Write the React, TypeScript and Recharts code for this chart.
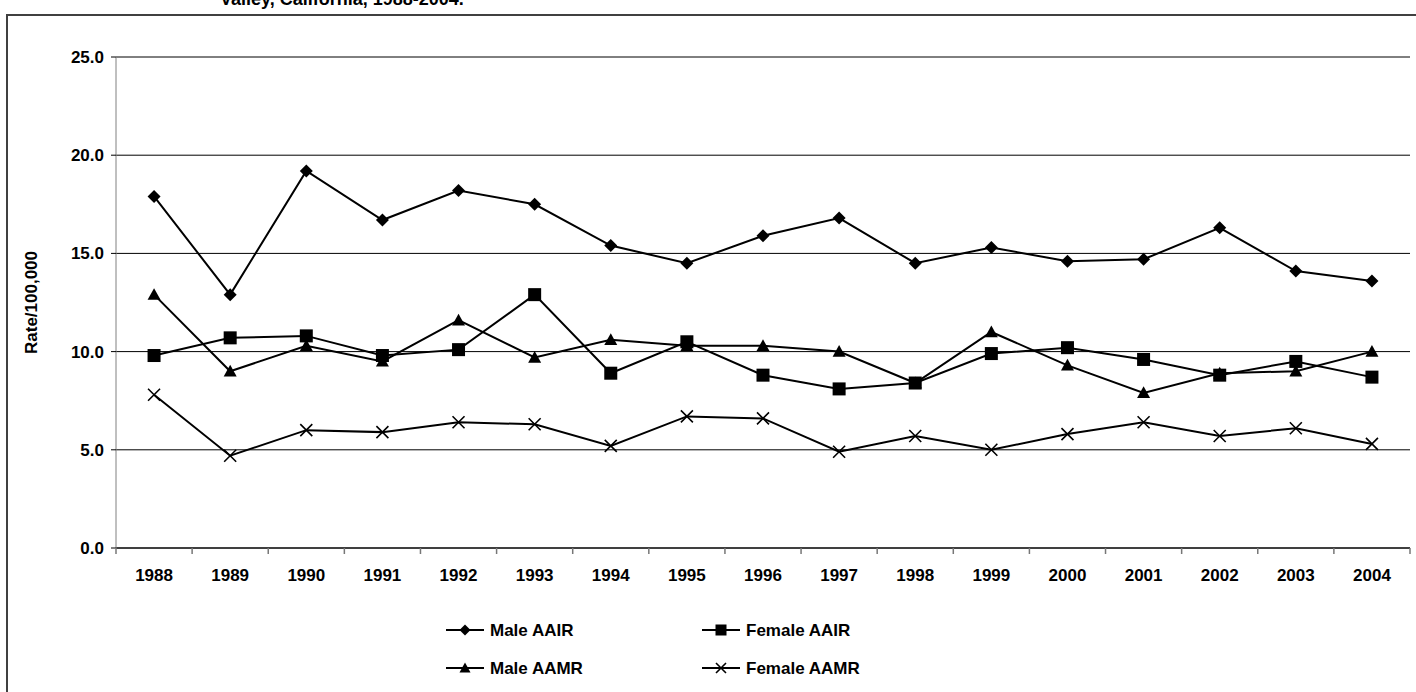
import React from "react";
import { LineChart, Line, XAxis, YAxis, CartesianGrid } from "recharts";

const YEARS = [
  "1988", "1989", "1990", "1991", "1992", "1993", "1994", "1995", "1996",
  "1997", "1998", "1999", "2000", "2001", "2002", "2003", "2004",
];
const MALE_AAIR = [17.9, 12.9, 19.2, 16.7, 18.2, 17.5, 15.4, 14.5, 15.9, 16.8, 14.5, 15.3, 14.6, 14.7, 16.3, 14.1, 13.6];
const FEMALE_AAIR = [9.8, 10.7, 10.8, 9.8, 10.1, 12.9, 8.9, 10.5, 8.8, 8.1, 8.4, 9.9, 10.2, 9.6, 8.8, 9.5, 8.7];
const MALE_AAMR = [12.9, 9.0, 10.3, 9.5, 11.6, 9.7, 10.6, 10.3, 10.3, 10.0, 8.4, 11.0, 9.3, 7.9, 8.9, 9.0, 10.0];
const FEMALE_AAMR = [7.8, 4.7, 6.0, 5.9, 6.4, 6.3, 5.2, 6.7, 6.6, 4.9, 5.7, 5.0, 5.8, 6.4, 5.7, 6.1, 5.3];
const Y_TICKS = [0, 5, 10, 15, 20, 25];

const data = YEARS.map((year, i) => ({
  year,
  maleAair: MALE_AAIR[i],
  femaleAair: FEMALE_AAIR[i],
  maleAamr: MALE_AAMR[i],
  femaleAamr: FEMALE_AAMR[i],
}));

const W = 1416;
const H = 692;
const MARGIN = { top: 57, right: 6, bottom: 114, left: 56 };
const PLOT_W = W - MARGIN.left - MARGIN.right - 60;
const FONT = "'Liberation Sans', Arial, sans-serif";

type Shape = "diamond" | "square" | "triangle" | "cross";

const SERIES: { key: string; name: string; shape: Shape; col: number; row: number }[] = [
  { key: "maleAair", name: "Male AAIR", shape: "diamond", col: 0, row: 0 },
  { key: "femaleAair", name: "Female AAIR", shape: "square", col: 1, row: 0 },
  { key: "maleAamr", name: "Male AAMR", shape: "triangle", col: 0, row: 1 },
  { key: "femaleAamr", name: "Female AAMR", shape: "cross", col: 1, row: 1 },
];

function marker(shape: Shape, cx: number, cy: number, s: number, key?: string) {
  if (shape === "diamond")
    return <polygon key={key} points={`${cx},${cy - s} ${cx + s},${cy} ${cx},${cy + s} ${cx - s},${cy}`} fill="#000" />;
  if (shape === "square")
    return <rect key={key} x={cx - s} y={cy - s} width={s * 2} height={s * 2} fill="#000" />;
  if (shape === "triangle")
    return <polygon key={key} points={`${cx},${cy - s} ${cx + s},${cy + s * 0.8} ${cx - s},${cy + s * 0.8}`} fill="#000" />;
  return (
    <path key={key} d={`M${cx - s},${cy - s}L${cx + s},${cy + s}M${cx + s},${cy - s}L${cx - s},${cy + s}`} stroke="#000" strokeWidth={1.6} fill="none" />
  );
}

const dotFor = (shape: Shape, s: number) => (props: any) =>
  marker(shape, props.cx, props.cy, s, `${shape}-${props.index}`);

const XTick = (props: any) => {
  const { x, y, payload, index } = props;
  const step = PLOT_W / YEARS.length;
  return (
    <g>
      <line x1={x - step / 2} x2={x - step / 2} y1={y} y2={y + 6} stroke="#777" strokeWidth={1.5} />
      {index === YEARS.length - 1 && (
        <line x1={x + step / 2} x2={x + step / 2} y1={y} y2={y + 6} stroke="#777" strokeWidth={1.5} />
      )}
      <text x={x} y={y + 33} textAnchor="middle" fontFamily={FONT} fontWeight="bold" fontSize={17} fill="#000">
        {payload.value}
      </text>
    </g>
  );
};

const ChartLegend = () => (
  <svg width={W} height={90} style={{ position: "absolute", left: 0, top: 600 }}>
    {SERIES.map((s) => {
      const x0 = s.col === 0 ? 446 : 702;
      const cy = s.row === 0 ? 30 : 68;
      return (
        <g key={s.key}>
          <line x1={x0} x2={x0 + 38} y1={cy} y2={cy} stroke="#000" strokeWidth={2} />
          {marker(s.shape, x0 + 19, cy, s.shape === "cross" ? 5 : 5.5)}
          <text x={x0 + 44} y={cy + 6} fontFamily={FONT} fontWeight="bold" fontSize={17} fill="#000">
            {s.name}
          </text>
        </g>
      );
    })}
  </svg>
);

export default function App() {
  return (
    <div style={{ position: "fixed", left: 0, top: 0, width: W, height: H, background: "#fff", overflow: "hidden" }}>
      <svg width={W} height={H} style={{ position: "absolute", left: 0, top: 0 }}>
        <rect x={7} y={15} width={W + 20} height={H + 20} fill="none" stroke="#404040" strokeWidth={2} />
        <text x={220} y={5} fontFamily={FONT} fontWeight="bold" fontSize={18} fill="#000">
          Valley, California, 1988-2004.
        </text>
      </svg>
      <div style={{ position: "absolute", left: 0, top: 0 }}>
        <LineChart width={W} height={H} data={data} margin={MARGIN}>
          <CartesianGrid vertical={false} stroke="#000" strokeWidth={1} />
          <XAxis
            dataKey="year"
            scale="band"
            interval={0}
            height={30}
            stroke="#000"
            tickLine={false}
            tickSize={0}
            tickMargin={0}
            tick={<XTick />}
          />
          <YAxis
            domain={[0, 25]}
            ticks={Y_TICKS}
            width={60}
            stroke="#808080"
            tickSize={5}
            tickMargin={7}
            tickLine={{ stroke: "#000" }}
            tickFormatter={(v: number) => v.toFixed(1)}
            tick={{ fontFamily: FONT, fontWeight: "bold", fontSize: 17, fill: "#000" }}
            label={{
              value: "Rate/100,000",
              angle: -90,
              position: "insideLeft",
              dx: -30,
              style: { fontFamily: FONT, fontWeight: "bold", fontSize: 17, fill: "#000", textAnchor: "middle" },
            }}
          />
          {SERIES.map((s) => (
            <Line
              key={s.key}
              dataKey={s.key}
              name={s.name}
              stroke="#000"
              strokeWidth={2}
              dot={dotFor(s.shape, s.shape === "cross" ? 6 : 6.5)}
              activeDot={false}
              isAnimationActive={false}
            />
          ))}
        </LineChart>
      </div>
      <ChartLegend />
    </div>
  );
}
